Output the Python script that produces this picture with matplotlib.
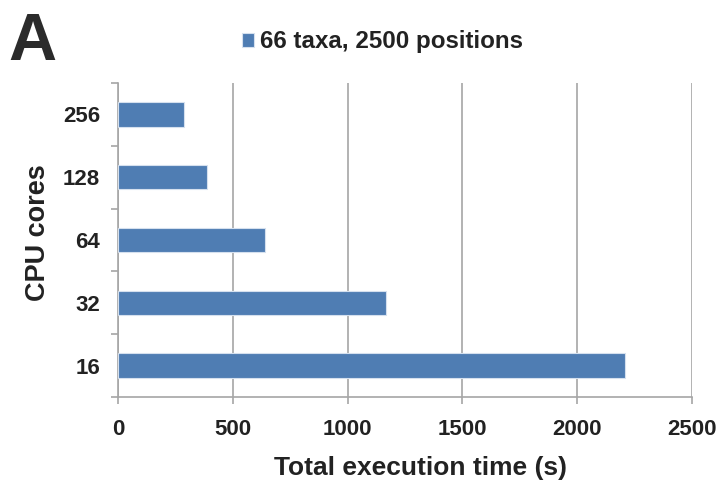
import matplotlib.pyplot as plt
import numpy as np

# Execution time per core count
cores = ['16', '32', '64', '128', '256']
exec_time = [2207, 1167, 639, 389, 289]
series_name = '66 taxa, 2500 positions'

bar_color = '#4f7db3'
grid_color = '#a6a6a6'
text_color = '#222222'

plt.rcParams['font.family'] = ['Liberation Sans', 'DejaVu Sans']

fig = plt.figure(figsize=(7.25, 4.87), dpi=100)
ax = fig.add_axes([0.1628, 0.1848, 0.7917, 0.6448])

y = np.arange(len(cores))
ax.barh(y, exec_time, height=0.39, color=bar_color, edgecolor='#d5e0ee',
        linewidth=0.8, label=series_name, zorder=3)

ax.set_xlim(0, 2500)
ax.set_ylim(-0.5, len(cores) - 0.5)
ax.set_xticks(np.arange(0, 2501, 500))
ax.set_yticks(y)
ax.set_yticklabels(cores)
ax.set_yticks(np.arange(-0.5, len(cores), 1), minor=True)

# Vertical gridlines only
ax.grid(axis='x', color=grid_color, linewidth=1.2, zorder=0)
for side in ['top', 'right']:
    ax.spines[side].set_visible(False)
for side in ['left', 'bottom']:
    ax.spines[side].set_color(grid_color)
    ax.spines[side].set_linewidth(1.2)

ax.tick_params(axis='x', direction='out', length=5, color=grid_color, width=1.2,
               labelsize=16, pad=11)
ax.tick_params(axis='y', which='major', length=0, labelsize=16, pad=13)
ax.tick_params(axis='y', which='minor', direction='out', length=5,
               color=grid_color, width=1.2)
for lbl in ax.get_xticklabels() + ax.get_yticklabels():
    lbl.set_fontweight('bold')
    lbl.set_color(text_color)

ax.set_xlabel('Total execution time (s)', fontsize=19, fontweight='bold',
              color=text_color)
ax.xaxis.set_label_coords(0.5 + 15 / 574, -0.188)
ax.set_ylabel('CPU cores', fontsize=19.5, fontweight='bold', color=text_color)
ax.yaxis.set_label_coords(-67 / 574, 0.525)

fig.legend(loc='center', bbox_to_anchor=(0.528, 0.914), frameon=False,
           prop={'size': 17.4, 'weight': 'bold'}, handlelength=0.5,
           handleheight=0.5, handletextpad=0.25)
for t in fig.legends[0].get_texts():
    t.set_color(text_color)

fig.text(0.012, 1 - 60 / 487, 'A', fontsize=48, fontweight='bold',
         color='#2b2b2b', va='baseline')

fig.savefig('out.png', dpi=100)
